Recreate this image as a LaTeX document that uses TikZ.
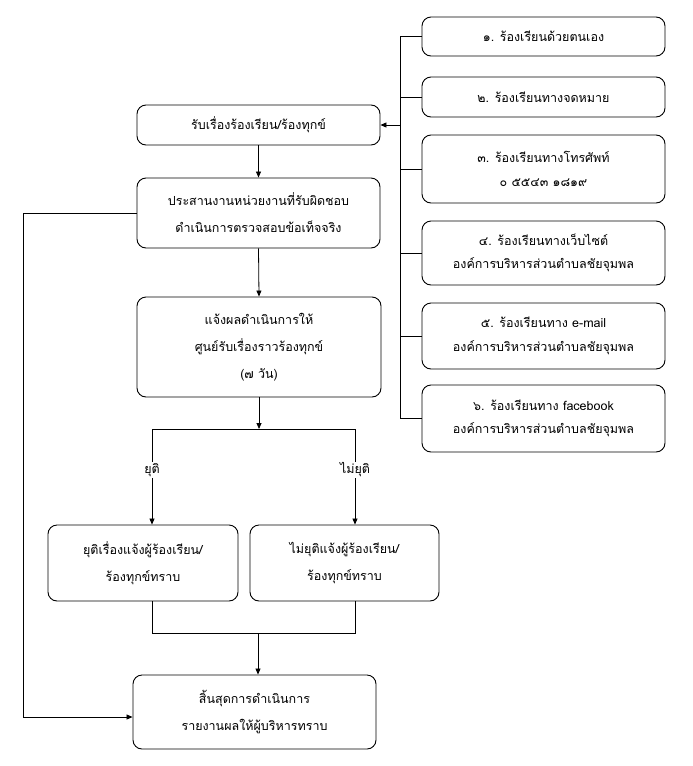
\documentclass[tikz,border=0pt]{standalone}
\usepackage{fontspec}
\newfontfamily\thaifont[Script=Thai]{Loma}
\usetikzlibrary{arrows.meta}
\begin{document}
\begin{tikzpicture}[x=1pt,y=-1pt,
  box/.style={draw, line width=0.9pt, rounded corners=9pt, align=center, inner sep=0pt,
    font=\thaifont\fontsize{12.5}{23.5}\selectfont},
  mainbox/.style={box, font=\thaifont\fontsize{12.5}{27}\selectfont},
  lbl/.style={inner sep=1pt, font=\thaifont\fontsize{12.5}{23}\selectfont},
  line/.style={line width=0.8pt},
  arr/.style={line width=0.8pt, -{Triangle[length=6pt,width=5pt]}}]
\useasboundingbox (0,0) rectangle (693,766);
% right column
\node[box, minimum width=243pt, minimum height=39pt] (R1) at (543.5,36.5) {๑. ร้องเรียนด้วยตนเอง};
\node[box, minimum width=243pt, minimum height=40pt] (R2) at (543.5,97) {๒. ร้องเรียนทางจดหมาย};
\node[box, minimum width=243pt, minimum height=68pt] (R3) at (543.5,169) {๓. ร้องเรียนทางโทรศัพท์\\๐ ๕๕๔๓ ๑๘๑๙};
\node[box, minimum width=243pt, minimum height=64pt] (R4) at (543.5,253) {๔. ร้องเรียนทางเว็บไซต์\\องค์การบริหารส่วนตำบลชัยจุมพล};
\node[box, minimum width=243pt, minimum height=66pt] (R5) at (543.5,336) {๕. ร้องเรียนทาง e-mail\\องค์การบริหารส่วนตำบลชัยจุมพล};
\node[box, minimum width=243pt, minimum height=67pt] (R6) at (543.5,418.5) {๖. ร้องเรียนทาง facebook\\องค์การบริหารส่วนตำบลชัยจุมพล};
% main column
\node[mainbox, minimum width=243pt, minimum height=40pt] (A) at (258.5,125) {รับเรื่องร้องเรียน/ร้องทุกข์};
\node[mainbox, minimum width=243pt, minimum height=70pt] (B) at (258.5,213) {ประสานงานหน่วยงานที่รับผิดชอบ\\ดำเนินการตรวจสอบข้อเท็จจริง};
\node[mainbox, minimum width=244pt, minimum height=100pt] (C) at (259,347) {แจ้งผลดำเนินการให้\\ศูนย์รับเรื่องราวร้องทุกข์\\(๗ วัน)};
\node[mainbox, minimum width=190pt, minimum height=76pt] (D) at (143,563) {ยุติเรื่องแจ้งผู้ร้องเรียน/\\ร้องทุกข์ทราบ};
\node[mainbox, minimum width=189pt, minimum height=76pt] (E) at (344.5,563) {ไม่ยุติแจ้งผู้ร้องเรียน/\\ร้องทุกข์ทราบ};
\node[mainbox, minimum width=243pt, minimum height=74pt] (F) at (254.5,712) {สิ้นสุดการดำเนินการ\\รายงานผลให้ผู้บริหารทราบ};
\node[lbl] (L1) at (152,470) {ยุติ};
\node[lbl] (L2) at (355,470) {ไม่ยุติ};
% coordinates
\coordinate (bt) at (400,36.5);
\coordinate (bb) at (400,418.5);
\coordinate (s1) at (152,429);
\coordinate (s2) at (355,429);
\coordinate (sc) at (259,429);
\coordinate (m1) at (152,633);
\coordinate (m2) at (355,633);
\coordinate (mc) at (258,633);
\coordinate (fb) at (23,717);
% bus
\draw[line] (R1.west) -- (bt) -- (bb) -- (R6.west);
\draw[line] (R2.west) -- (R2.west -| bt);
\draw[line] (R3.west) -- (R3.west -| bt);
\draw[line] (R4.west) -- (R4.west -| bt);
\draw[line] (R5.west) -- (R5.west -| bt);
\draw[arr] (A.east -| bt) -- (A.east);
% main flow
\draw[arr] (A.south) -- (B.north);
\draw[arr] (B.south) -- (C.north);
\draw[arr] (C.south) -- (sc);
\draw[line] (L1.north) -- (s1) -- (s2) -- (L2.north);
\draw[arr] (L1.south) -- (L1.south |- D.north);
\draw[arr] (L2.south) -- (L2.south |- E.north);
\draw[line] (D.south -| m1) -- (m1) -- (m2) -- (E.south -| m2);
\draw[arr] (mc) -- (mc |- F.north);
\draw[arr] (B.west) -- (B.west -| fb) -- (fb) -- (F.west |- fb);
\end{tikzpicture}
\end{document}
